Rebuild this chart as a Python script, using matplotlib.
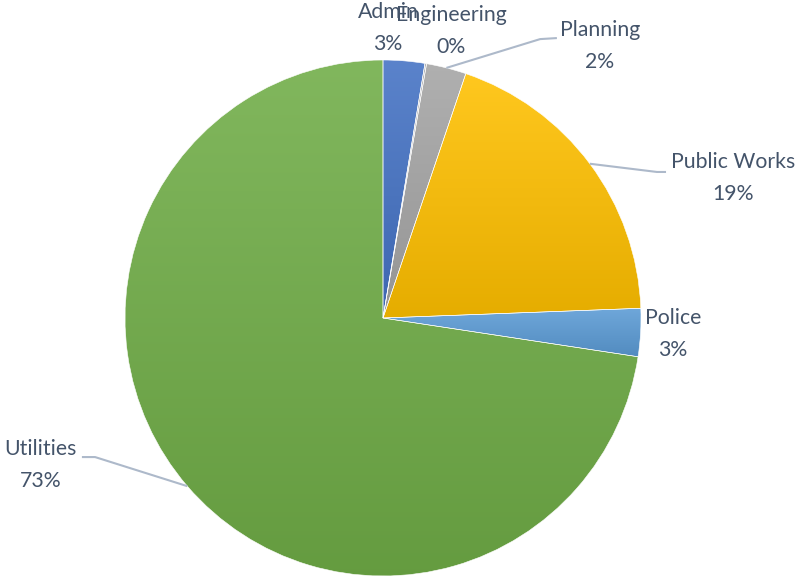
import matplotlib
matplotlib.use("Agg")
import matplotlib.pyplot as plt
import numpy as np
from matplotlib.colors import to_rgb

departments = ["Admin", "Engineering", "Planning", "Public Works", "Police", "Utilities"]
shares = [2.6, 0.1, 2.5, 19.2, 3.0, 72.6]
colors = ["#4472C4", "#A5A5A5", "#A5A5A5", "#FFC000", "#5B9BD5", "#70AD47"]

# label block centres (data units, pie radius = 1)
label_pos = [(0.019, 1.124), (0.264, 1.112), (0.841, 1.054),
             (1.357, 0.543), (1.124, -0.062), (-1.326, -0.570)]
# elbow of leader line (None = no leader)
elbows = [None, None, [(0.674, 1.085), (0.609, 1.081)],
          [(1.097, 0.566), (1.062, 0.566)], None,
          [(-1.167, -0.539), (-1.116, -0.539)]]

plt.rcParams['font.family'] = ['Lato', 'DejaVu Sans']

fig = plt.figure(figsize=(7.97, 5.76), dpi=100, facecolor="white")
ax = fig.add_axes([0, 0, 1, 1])

wedges, _ = ax.pie(shares, colors=colors, startangle=90, counterclock=False,
                   radius=1, center=(0, 0), frame=True,
                   wedgeprops=dict(edgecolor="white", linewidth=0.4))
ax.set_xlim(-383 / 258, (797 - 383) / 258)
ax.set_ylim(-(576 - 318) / 258, 318 / 258)
ax.set_aspect("equal")
ax.axis("off")

# vertical gradient inside every wedge: lighter at top, darker at bottom
t = np.linspace(0, 1, 256)[:, None]
for w, c in zip(wedges, colors):
    base = np.array(to_rgb(c))
    top = base + (1 - base) * 0.12
    bot = base * 0.90
    grad = top[None, None, :] * (1 - t[:, :, None]) + bot[None, None, :] * t[:, :, None]
    ext = w.get_path().get_extents()
    im = ax.imshow(grad, extent=(ext.x0, ext.x1, ext.y0, ext.y1), origin="upper",
                   aspect="auto", zorder=1, interpolation="bilinear")
    im.set_clip_path(w)
    w.set_facecolor("none")
    w.set_zorder(2)

text_color = "#44546A"
line_color = "#ADB9CA"
for w, name, val, pos, elbow in zip(wedges, departments, shares, label_pos, elbows):
    ax.text(pos[0], pos[1], f"{name}\n{val:.0f}%", ha="center", va="center",
            fontsize=15.3, color=text_color, linespacing=1.75, zorder=5)
    if elbow is not None:
        mid = np.deg2rad((w.theta1 + w.theta2) / 2)
        xs = [elbow[0][0], elbow[1][0], np.cos(mid)]
        ys = [elbow[0][1], elbow[1][1], np.sin(mid)]
        ax.plot(xs, ys, color=line_color, lw=1.5, zorder=4, solid_capstyle="butt")

fig.savefig("out.png", dpi=100, facecolor="white")
